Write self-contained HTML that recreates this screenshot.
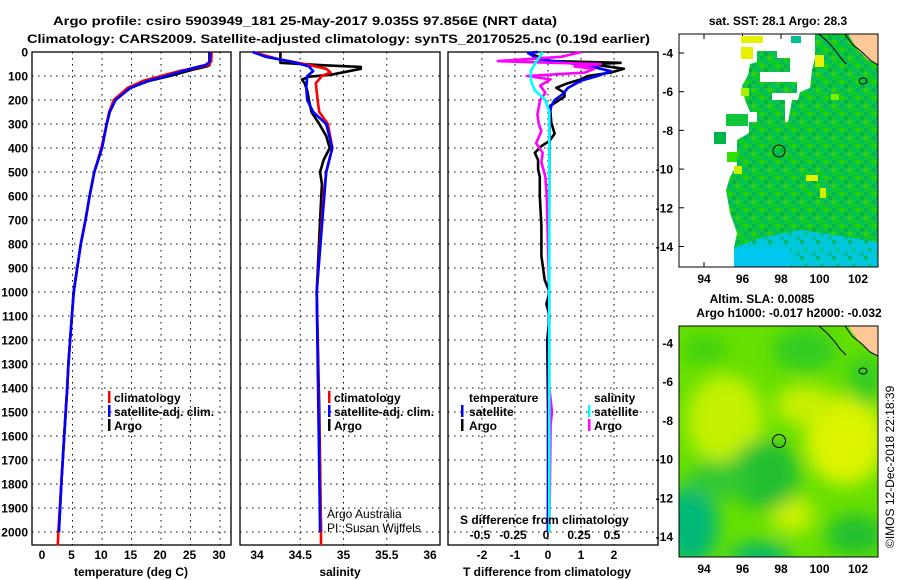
<!DOCTYPE html>
<html><head><meta charset="utf-8"><style>
html,body{margin:0;padding:0;background:#fff;}
svg{display:block;font-family:"Liberation Sans",sans-serif;}
.b{font-weight:bold;font-size:12px;}
.n{font-size:12px;}
</style></head><body>
<svg id="fig" width="900" height="580" viewBox="0 0 900 580" xmlns="http://www.w3.org/2000/svg">
<defs>
 <pattern id="mottle" width="16" height="16" patternUnits="userSpaceOnUse">
  <rect width="16" height="16" fill="#10c43c"/>
  <rect x="0" y="0" width="4" height="4" fill="#00b650"/>
  <rect x="8" y="0" width="4" height="4" fill="#22d400"/>
  <rect x="4" y="4" width="4" height="4" fill="#00c060"/>
  <rect x="12" y="4" width="4" height="4" fill="#00b040"/>
  <rect x="0" y="8" width="4" height="4" fill="#30d010"/>
  <rect x="8" y="8" width="4" height="4" fill="#00b468"/>
  <rect x="4" y="12" width="4" height="4" fill="#08cc20"/>
  <rect x="12" y="12" width="4" height="4" fill="#00bc58"/>
 </pattern>
 <pattern id="mottle2" width="16" height="16" patternUnits="userSpaceOnUse">
  <rect width="16" height="16" fill="#00c8d8"/>
  <rect x="0" y="0" width="4" height="4" fill="#00b870"/>
  <rect x="8" y="4" width="4" height="4" fill="#00c4f0"/>
  <rect x="4" y="8" width="4" height="4" fill="#00c090"/>
  <rect x="12" y="12" width="4" height="4" fill="#00bca8"/>
 </pattern>
 <clipPath id="m1clip"><rect x="679" y="34" width="199" height="233"/></clipPath>
 <clipPath id="m2clip"><rect x="679" y="326" width="199" height="231"/></clipPath>
 <filter id="blur" x="-20%" y="-20%" width="140%" height="140%"><feGaussianBlur stdDeviation="9"/></filter>
</defs>

<text class="b" x="53" y="25" font-size="13.5" textLength="504" lengthAdjust="spacingAndGlyphs">Argo profile: csiro 5903949_181 25-May-2017 9.035S 97.856E (NRT data)</text>
<text class="b" x="27" y="43" font-size="13.5" textLength="623" lengthAdjust="spacingAndGlyphs">Climatology: CARS2009. Satellite-adjusted climatology: synTS_20170525.nc (0.19d earlier)</text>

<g id="axes"></g>
<g id="series"></g>

<g>
 <rect x="108" y="391" width="2.5" height="12" fill="#f00"/><text class="b" x="114" y="402">climatology</text>
 <rect x="108" y="405" width="2.5" height="12" fill="#00f"/><text class="b" x="114" y="416">satellite-adj. clim.</text>
 <rect x="108" y="419" width="2.5" height="12" fill="#000"/><text class="b" x="114" y="430">Argo</text>
</g>
<g>
 <rect x="328" y="391" width="2.5" height="12" fill="#f00"/><text class="b" x="334" y="402">climatology</text>
 <rect x="328" y="405" width="2.5" height="12" fill="#00f"/><text class="b" x="334" y="416">satellite-adj. clim.</text>
 <rect x="328" y="419" width="2.5" height="12" fill="#000"/><text class="b" x="334" y="430">Argo</text>
 <text class="n" x="327" y="518">Argo Australia</text>
 <text class="n" x="327" y="532">PI: Susan Wijffels</text>
</g>
<g>
 <text class="b" x="469" y="402">temperature</text>
 <rect x="461" y="405" width="2.5" height="12" fill="#00f"/><text class="b" x="469" y="416">satellite</text>
 <rect x="461" y="419" width="2.5" height="12" fill="#000"/><text class="b" x="469" y="430">Argo</text>
 <text class="b" x="594" y="402">salinity</text>
 <rect x="588" y="405" width="2.5" height="12" fill="#0ff"/><text class="b" x="594" y="416">satellite</text>
 <rect x="588" y="419" width="2.5" height="12" fill="#f0f"/><text class="b" x="594" y="430">Argo</text>
 <text class="b" x="460" y="524">S difference from climatology</text>
</g>

<g>
 <text class="b" x="778" y="25" text-anchor="middle">sat. SST: 28.1 Argo: 28.3</text>
 <g clip-path="url(#m1clip)">
  <polygon fill="url(#mottle)" points="815,34 850,34 878,62 878,267 734,267 734,248 737,233 730,213 726,190 730,177 737,165 737,140 749,133 749,122 788,122 792,100 798,100 800,92 810,88 812,70 815,58"/>
  <polygon fill="url(#mottle)" points="757,51 777,51 777,58 790,58 790,72 760,72 760,82 797,82 797,93 772,93 772,100 785,100 785,122 757,122 757,112 750,112 745,100 742,86 748,75 750,64 757,62"/>
  <polygon fill="url(#mottle2)" points="734,248 760,238 800,230 840,236 878,242 878,267 734,267"/>
  <rect x="734" y="248" width="56" height="19" fill="#00c8f0"/>
  <rect x="741" y="36" width="22" height="7" fill="#e6f000"/>
  <rect x="741" y="47" width="12" height="12" fill="#e6f000"/>
  <rect x="791" y="36" width="10" height="7" fill="#00c090"/>
  <rect x="815" y="55" width="9" height="12" fill="#e6f000"/>
  <rect x="714" y="132" width="12" height="12" fill="#00b448"/>
  <rect x="727" y="152" width="10" height="10" fill="#30e000"/>
  <rect x="726" y="114" width="22" height="12" fill="#10c43c"/>
  <rect x="741" y="88" width="8" height="8" fill="#a8f000"/>
  <rect x="734" y="166" width="8" height="8" fill="#c8f000"/>
  <rect x="806" y="175" width="12" height="6" fill="#e6f000"/>
  <rect x="820" y="188" width="6" height="10" fill="#d0f000"/>
  <rect x="831" y="94" width="8" height="6" fill="#80f000"/>
  <polygon fill="#ffc896" points="848,34 878,34 878,65 868,60 858,50"/>
  <polyline fill="none" stroke="#000" stroke-width="1" points="819,34 828,42 835,50 840,57 846,64"/>
  <polyline fill="none" stroke="#000" stroke-width="1" points="845,34 852,44 862,52 870,60 878,65"/>
  <ellipse cx="863" cy="81" rx="4" ry="3" fill="none" stroke="#000"/>
  <circle cx="779" cy="151" r="6" fill="none" stroke="#000"/>
 </g>
 <rect x="679" y="34" width="199" height="233" fill="none" stroke="#000"/>
</g>

<g>
 <text class="b" x="762" y="303" text-anchor="middle">Altim. SLA: 0.0085</text>
 <text class="b" x="789" y="317" text-anchor="middle">Argo h1000: -0.017 h2000: -0.032</text>
 <g clip-path="url(#m2clip)">
  <rect x="679" y="326" width="199" height="231" fill="#66e000"/>
  <g filter="url(#blur)">
   <ellipse cx="725" cy="420" rx="38" ry="45" fill="#c4f200"/>
   <ellipse cx="845" cy="440" rx="40" ry="45" fill="#dcf400"/>
   <ellipse cx="805" cy="405" rx="30" ry="20" fill="#c8f000"/>
   <ellipse cx="792" cy="515" rx="22" ry="18" fill="#ccf200"/>
   <ellipse cx="805" cy="350" rx="32" ry="22" fill="#30cc20"/>
   <ellipse cx="865" cy="380" rx="18" ry="25" fill="#30cc20"/>
   <ellipse cx="765" cy="475" rx="35" ry="35" fill="#20c030"/>
   <ellipse cx="705" cy="350" rx="22" ry="14" fill="#40d010"/>
   <ellipse cx="690" cy="525" rx="28" ry="40" fill="#00b878"/>
   <ellipse cx="760" cy="555" rx="30" ry="12" fill="#00b870"/>
   <ellipse cx="855" cy="535" rx="30" ry="20" fill="#20c030"/>
   <ellipse cx="718" cy="480" rx="30" ry="20" fill="#30c830"/>
  </g>
  <polygon fill="#ffc896" points="848,326 878,326 878,356 868,350 858,340"/>
  <polyline fill="none" stroke="#000" points="819,326 828,334 835,342 840,349 846,355"/>
  <polyline fill="none" stroke="#000" points="845,326 852,336 862,344 870,352 878,356"/>
  <ellipse cx="863" cy="371" rx="4" ry="3" fill="none" stroke="#000"/>
  <circle cx="779" cy="441" r="6.5" fill="none" stroke="#000"/>
 </g>
 <rect x="679" y="326" width="199" height="231" fill="none" stroke="#000"/>
</g>
<text class="n" transform="translate(894,548) rotate(-90)" font-size="12.5">©IMOS 12-Dec-2018 22:18:39</text>
</svg>

<script>
// ---- data ----
const depthTicks = [0,100,200,300,400,500,600,700,800,900,1000,1100,1200,1300,1400,1500,1600,1700,1800,1900,2000];
const tempTicks = [0,5,10,15,20,25,30];
const salTicks = [34,34.5,35,35.5,36];
const tDiffTicks = [-2,-1,0,1,2];
const sDiffTicks = [-0.5,-0.25,0,0.25,0.5];
const sDiffTickLabels = ["-0.5","-0.25","0","0.25","0.5"];

const tDepth = [0,40,55,60,70,80,100,120,150,200,250,300,400,500,600,700,800,900,1000,1100,1200,1300,1400,1600,1800,2000,2056];
const tArgo  = [28.2,28.2,28.2,27.8,26,24.4,21.5,18,14.7,12.2,11.3,10.8,10,8.7,7.9,7.2,6.4,5.8,5.2,4.9,4.6,4.3,4.1,3.6,3.1,2.7,null];
const tClim  = [28.6,28.5,28,27,25,23,20,17,14.3,12,11.2,10.8,9.9,8.7,7.9,7.2,6.4,5.8,5.2,4.9,4.6,4.3,4.1,3.6,3.1,2.6,2.5];
const tSat   = [28.3,28.3,27.5,26.5,25,23.5,21,17.8,14.8,12.3,11.3,10.8,10,8.7,7.9,7.2,6.4,5.8,5.2,4.9,4.6,4.3,4.1,3.6,3.1,2.7,null];

const sArgoDepth = [0,45,55,62,70,95,103,115,130,160,200,250,300,350,400,450,500,550,700,1000,1500,2000];
const sArgo      = [34.27,34.27,34.75,35.2,35.2,34.85,34.6,34.52,34.55,34.58,34.6,34.63,34.72,34.8,34.84,34.77,34.73,34.75,34.73,34.69,34.72,34.74];
const sClimDepth = [0,10,30,50,70,85,100,130,200,250,300,400,500,600,1000,2000,2056];
const sClim      = [33.95,34.05,34.25,34.55,34.8,34.85,34.75,34.68,34.7,34.72,34.82,34.87,34.8,34.77,34.69,34.74,34.74];
const sSatDepth  = [0,20,40,60,80,100,150,200,250,300,400,500,1000,2000];
const sSat       = [33.95,34.1,34.4,34.6,34.65,34.58,34.57,34.58,34.65,34.8,34.87,34.8,34.69,34.73];

const dtArgoDepth = [0,4,38,45,51,60,70,86,100,114,130,149,170,186,225,294,340,370,392,420,450,489,520,600,725,850,950,1000,1050,1100,1200,1500,2000];
const dtArgo      = [-0.3,-0.6,0.06,2.2,1.3,1.8,2.3,1.9,1.2,1.0,0.6,0.25,0.5,0.5,0.06,0.1,0.2,0.05,-0.2,-0.4,-0.3,-0.3,-0.25,-0.25,-0.2,-0.2,-0.1,0.05,-0.05,0.05,-0.02,0,0];
const dtSatDepth  = [0,4,30,45,60,80,100,120,150,175,200,225,260,300,2000];
const dtSat       = [-0.3,-0.6,-0.3,0.6,1.3,1.9,1.5,1.0,0.6,0.45,0.2,0.1,0.05,0.05,0];
const dsArgoDepth = [0,4,20,38,51,60,70,86,100,114,140,170,200,260,300,330,380,420,460,520,600,800,1000,1400,1500,1550,2000];
const dsArgo      = [0.25,0.22,0.1,-0.38,0.4,0.2,0.35,0.28,-0.16,0.02,-0.06,-0.02,-0.06,-0.08,-0.07,-0.05,-0.09,-0.04,-0.05,-0.02,-0.01,0,0.01,0.01,0.03,0.02,0.01];
const dsSatDepth  = [0,10,40,80,120,160,200,250,400,2000];
const dsSat       = [-0.04,-0.05,-0.09,-0.13,-0.13,-0.1,-0.02,0.01,0.01,0.01];

const lonTicks = [94,96,98,100,102];
const latTicks = [-4,-6,-8,-10,-12,-14];

// ---- scales ----
const NS = "http://www.w3.org/2000/svg";
const Y0 = 52, YB = 545, PXM = 0.24;
function yD(d){ return Y0 + d*PXM; }
const panels = {
  temp: {x0:32, x1:231, f: v => 43 + v*5.9},
  sal:  {x0:240, x1:440, f: v => 257 + (v-34)*86.5},
  dt:   {x0:448, x1:658, f: v => 548 + v*33},
  ds:   {x0:448, x1:658, f: v => 548 + v*132}
};
const axes = document.getElementById('axes');
const series = document.getElementById('series');
function mk(tag, attrs, parent){
  const e = document.createElementNS(NS, tag);
  for (const k in attrs) e.setAttribute(k, attrs[k]);
  parent.appendChild(e); return e;
}
function txt(x,y,s,anchor,parent){
  const t = mk('text',{x:x,y:y,'text-anchor':anchor||'middle','class':'b'},parent);
  t.textContent = s; return t;
}

[['temp','temperature-panel'],['sal','salinity-panel'],['dt','difference-panel']].forEach(function(pr){
  const k = pr[0], name = pr[1];
  const p = panels[k];
  const g = mk('g',{},axes);
  
  
  depthTicks.forEach(function(d){
    if (d===0) return;
    const l = mk('line',{x1:p.x0,x2:p.x1,y1:yD(d),y2:yD(d),stroke:'#000','stroke-width':1,'stroke-dasharray':'1.5,4.5'},g);
    
    
  });
  const vt = k==='temp'?tempTicks.slice(1):(k==='sal'?salTicks.slice(1,4):tDiffTicks);
  vt.forEach(function(v){
    const x = p.f(v);
    const l = mk('line',{x1:x,x2:x,y1:Y0,y2:YB,stroke:'#000','stroke-width':1,'stroke-dasharray':'1.5,4.5'},g);
    
    
  });
  const r = mk('rect',{x:p.x0,y:Y0,width:p.x1-p.x0,height:YB-Y0,fill:'none',stroke:'#000','stroke-width':1.3},g);
  
  
});
depthTicks.forEach(function(d){
  const t = txt(28, yD(d)+4.5, String(d), 'end', axes);
  
  
});
tempTicks.forEach(function(v){
  const t = txt(panels.temp.f(v)-1, 559, String(v), 'middle', axes);
  
  
});
salTicks.forEach(function(v){
  const t = txt(panels.sal.f(v), 559, String(v), 'middle', axes);
  
  
});
tDiffTicks.forEach(function(v){
  const t = txt(panels.dt.f(v), 559, String(v), 'middle', axes);
  
  
});
sDiffTicks.forEach(function(v,i){
  const t = txt(panels.ds.f(v)-2, 539, sDiffTickLabels[i], 'middle', axes);
  
  
});
let at;
at = txt(131, 576, 'temperature (deg C)', 'middle', axes);


at = txt(340, 576, 'salinity', 'middle', axes);


at = txt(547, 576, 'T difference from climatology', 'middle', axes);



function line(depths, vals, f, color, name, w){
  let d = '', pen = false;
  for (let i = 0; i !== depths.length; i++){
    if (vals[i] === null || vals[i] === undefined){ pen = false; continue; }
    d += (pen ? 'L' : 'M') + f(vals[i]).toFixed(1) + ',' + yD(depths[i]).toFixed(1);
    pen = true;
  }
  const p = mk('path',{d:d,fill:'none',stroke:color,'stroke-width':w||2.6,'stroke-linejoin':'round'},series);
  
  
}
line(tDepth, tArgo, panels.temp.f, '#000', 'temperature-argo-line');
line(tDepth, tClim, panels.temp.f, '#f00', 'temperature-climatology-line');
line(tDepth, tSat,  panels.temp.f, '#00f', 'temperature-satellite-line');
line(sArgoDepth, sArgo, panels.sal.f, '#000', 'salinity-argo-line');
line(sClimDepth, sClim, panels.sal.f, '#f00', 'salinity-climatology-line');
line(sSatDepth,  sSat,  panels.sal.f, '#00f', 'salinity-satellite-line');
line(dtArgoDepth, dtArgo, panels.dt.f, '#000', 't-diff-argo-line');
line(dtSatDepth,  dtSat,  panels.dt.f, '#00f', 't-diff-satellite-line');
line(dsArgoDepth, dsArgo, panels.ds.f, '#f0f', 's-diff-argo-line');
line(dsSatDepth,  dsSat,  panels.ds.f, '#0ff', 's-diff-satellite-line');

function mapTicks(top, latTopY, name){
  const g = mk('g',{},axes);
  
  
  latTicks.forEach(function(lat){
    const y = latTopY + (-4-lat)*19.35;
    mk('line',{x1:679,x2:684,y1:y,y2:y,stroke:'#000'},g);
    mk('line',{x1:873,x2:878,y1:y,y2:y,stroke:'#000'},g);
    const t = txt(673, y+4.5, String(lat), 'end', g);
    
    
  });
  lonTicks.forEach(function(lon){
    const x = 704 + (lon-94)*19.25;
    const bot = top===34?267:557;
    mk('line',{x1:x,x2:x,y1:bot-5,y2:bot,stroke:'#000'},g);
    mk('line',{x1:x,x2:x,y1:top,y2:top+5,stroke:'#000'},g);
    const t = txt(x, bot+16, String(lon), 'middle', g);
    
    
  });
}
mapTicks(34, 53, 'sst-map-axes');
mapTicks(326, 343, 'sla-map-axes');
</script>
</body></html>
